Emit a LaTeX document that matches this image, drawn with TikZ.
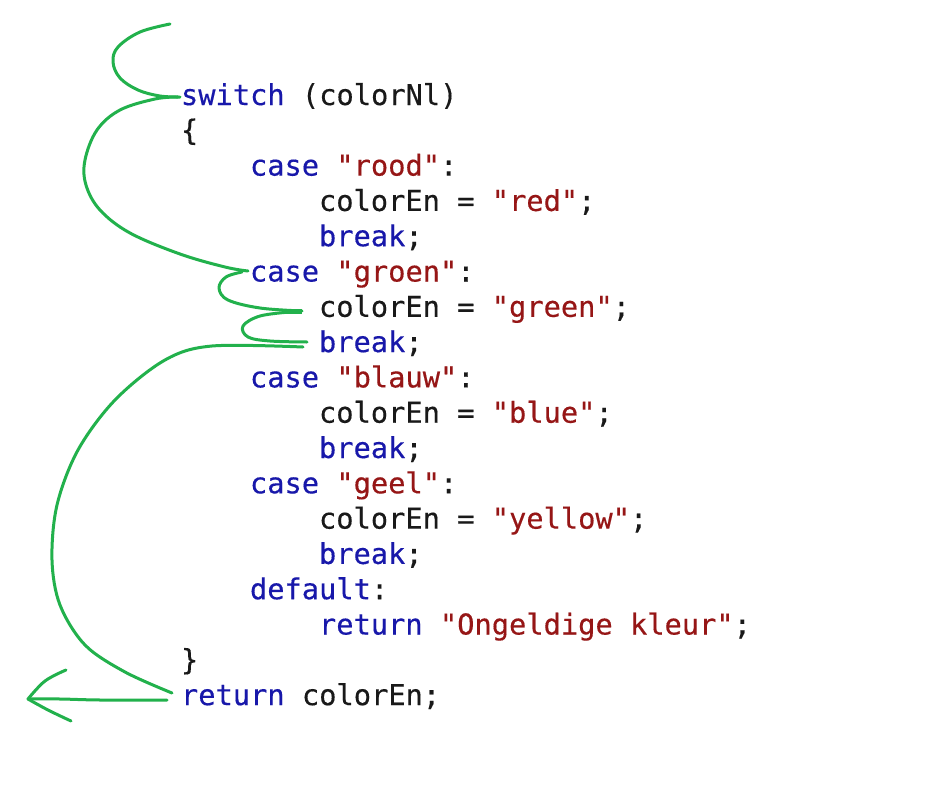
\documentclass[tikz,border=0pt]{standalone}
\usepackage{fontspec}
\newfontfamily\codefont[FakeBold=0.35]{DejaVu Sans Mono}
\definecolor{kwblue}{RGB}{24,24,170}
\definecolor{strred}{RGB}{150,22,22}
\definecolor{codeblack}{RGB}{25,25,25}
\definecolor{pen}{RGB}{34,177,76}
\newcommand\kwd[1]{\textcolor{kwblue}{#1}}
\newcommand\strg[1]{\textcolor{strred}{#1}}
\tikzset{
  codeline/.style={anchor=base west, inner sep=0pt, outer sep=0pt, text=codeblack,
    font=\codefont\fontsize{28.7}{35.3}\selectfont},
  penline/.style={draw=pen, line width=3pt, line cap=round, line join=round},
}
\begin{document}
\begin{tikzpicture}[x=1pt,y=-1pt]
\useasboundingbox (0,0) rectangle (938,803);
\fill[white] (0,0) rectangle (938,803);
% code lines
\node[codeline] (l1)  at (181,105.0) {\kwd{switch} (colorNl)};
\node[codeline] (l2)  at (181,140.3) {\{};
\node[codeline] (l3)  at (250,175.6) {\kwd{case} \strg{"rood"}:};
\node[codeline] (l4)  at (319,210.9) {colorEn = \strg{"red"};};
\node[codeline] (l5)  at (319,246.2) {\kwd{break};};
\node[codeline] (l6)  at (250,281.5) {\kwd{case} \strg{"groen"}:};
\node[codeline] (l7)  at (319,316.8) {colorEn = \strg{"green"};};
\node[codeline] (l8)  at (319,352.1) {\kwd{break};};
\node[codeline] (l9)  at (250,387.4) {\kwd{case} \strg{"blauw"}:};
\node[codeline] (l10) at (319,422.7) {colorEn = \strg{"blue"};};
\node[codeline] (l11) at (319,458.0) {\kwd{break};};
\node[codeline] (l12) at (250,493.3) {\kwd{case} \strg{"geel"}:};
\node[codeline] (l13) at (319,528.6) {colorEn = \strg{"yellow"};};
\node[codeline] (l14) at (319,563.9) {\kwd{break};};
\node[codeline] (l15) at (250,599.2) {\kwd{default}:};
\node[codeline] (l16) at (319,634.5) {\kwd{return} \strg{"Ongeldige kleur"};};
\node[codeline] (l17) at (181,669.8) {\}};
\node[codeline] (l18) at (181,705.1) {\kwd{return} colorEn;};
% pen strokes
\coordinate (aStart) at (170,24);
\coordinate (aEnd) at (180,97);
\draw[penline] plot[smooth, tension=0.6] coordinates {(aStart) (140,32) (118,47) (113,62) (120,78) (138,90) (160,96) (aEnd)};
\coordinate (bStart) at (178,97);
\coordinate (bEnd) at (248,271);
\draw[penline] plot[smooth, tension=0.6] coordinates {(bStart) (155,99) (120,110) (97,130) (85,160) (86,185) (100,210) (130,233) (180,254) (225,267) (bEnd)};
\coordinate (cStart) at (242,272);
\coordinate (cEnd) at (302,311);
\draw[penline] plot[smooth, tension=0.6] coordinates {(cStart) (226,277) (219,288) (228,300) (260,308) (cEnd)};
\draw[penline, line width=5pt, line cap=butt] (282,311) -- (cEnd);
\coordinate (dStart) at (290,312);
\coordinate (dEnd) at (307,342);
\draw[penline] plot[smooth, tension=0.6] coordinates {(dStart) (260,316) (243,326) (248,337) (270,341) (dEnd)};
\coordinate (eStart) at (303,347);
\coordinate (eEnd) at (172,693);
\draw[penline] plot[smooth, tension=0.55] coordinates {(eStart) (212,346) (165,360) (115,400) (78,450) (57,505) (52,560) (60,605) (85,645) (125,672) (eEnd)};
\coordinate (fStart) at (167,700);
\coordinate (tip) at (28,699);
\draw[penline] plot[smooth, tension=0.6] coordinates {(fStart) (100,700) (60,699) (tip)};
\draw[penline] plot[smooth, tension=0.6] coordinates {(66,670) (45,681) (tip)};
\draw[penline] plot[smooth, tension=0.6] coordinates {(tip) (48,710) (71,721)};
\end{tikzpicture}
\end{document}
